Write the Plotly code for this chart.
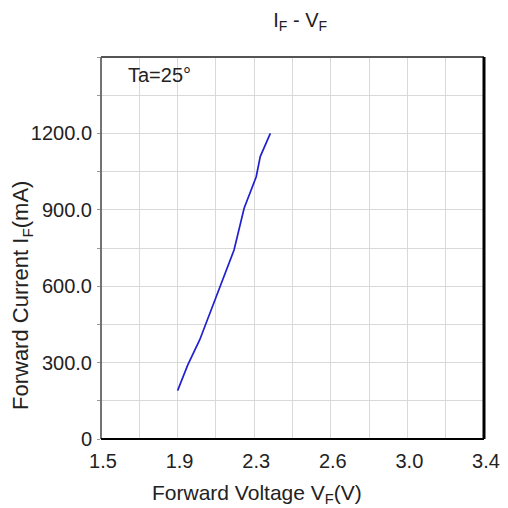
import plotly.graph_objects as go

# Data
voltage = [1.88, 1.93, 1.99, 2.04, 2.09, 2.16, 2.21, 2.24, 2.27, 2.29, 2.34]
current = [190, 290, 390, 495, 598, 742, 906, 965, 1030, 1109, 1200]

x_tickvals = [1.5, 1.88, 2.26, 2.64, 3.02, 3.4]
x_ticktext = ["1.5", "1.9", "2.3", "2.6", "3.0", "3.4"]
x_gridvals = [1.5 + 0.19 * k for k in range(11)]
y_tickvals = [0, 300, 600, 900, 1200]
y_ticktext = ["0", "300.0", "600.0", "900.0", "1200.0"]
y_gridvals = [150 * k for k in range(11)]

FONT = "Liberation Sans, Arial, sans-serif"
TXT = "#222"

fig = go.Figure()
fig.add_trace(go.Scatter(x=voltage, y=current, mode="lines",
                         line=dict(color="#2020d0", width=1.7),
                         showlegend=False, hoverinfo="x+y"))

# page body adds an 8px margin, so the figure is 500x500 with margins reduced by 8
fig.update_layout(
    width=500, height=500,
    margin=dict(l=93, r=24, t=49, b=69, autoexpand=False),
    paper_bgcolor="white", plot_bgcolor="white",
    font=dict(family=FONT, size=20, color=TXT),
    title=dict(text="I<sub>F</sub> - V<sub>F</sub>", x=0.52, xref="paper", xanchor="center",
               y=1 - 12 / 500, yref="container", yanchor="middle",
               font=dict(family=FONT, size=20, color=TXT)),
)

fig.update_xaxes(range=[1.5, 3.4], tickmode="array", tickvals=x_tickvals, ticktext=x_ticktext,
                 automargin=False,
                 showgrid=True, gridcolor="#d9d9d9", gridwidth=1, zeroline=False,
                 minor=dict(tickmode="array", tickvals=x_gridvals, showgrid=True,
                            gridcolor="#d9d9d9", gridwidth=1, ticks=""),
                 showline=False, ticks="", ticklabelshift=2, ticklabelstandoff=8,
                 tickfont=dict(family=FONT, size=20, color=TXT))
fig.update_yaxes(range=[0, 1500], tickmode="array", tickvals=y_tickvals, ticktext=y_ticktext,
                 automargin=False,
                 showgrid=True, gridcolor="#d9d9d9", gridwidth=1, zeroline=False,
                 minor=dict(tickmode="array", tickvals=y_gridvals, showgrid=True,
                            gridcolor="#d9d9d9", gridwidth=1, ticks="outside", ticklen=3,
                            tickcolor="#999"),
                 showline=False, ticks="outside", ticklen=3, tickcolor="#999",
                 ticklabelstandoff=1,
                 tickfont=dict(family=FONT, size=20, color=TXT))

# frame
fig.add_shape(type="line", xref="x domain", yref="y domain", x0=0, x1=0, y0=0, y1=1,
              line=dict(color="#444", width=1.5))
fig.add_shape(type="line", xref="x domain", yref="y domain", x0=0, x1=1, y0=1, y1=1,
              line=dict(color="#555", width=2))
fig.add_shape(type="line", xref="x domain", yref="y domain", x0=1, x1=1, y0=0, y1=1,
              line=dict(color="#000", width=3))
fig.add_shape(type="line", xref="x domain", yref="y domain", x0=0, x1=1, y0=0, y1=0,
              line=dict(color="#000", width=2))

# axis titles and condition label
fig.add_annotation(text="Forward Voltage V<sub>F</sub>(V)", xref="paper", yref="paper",
                   x=(257 - 101) / 383, y=(439 - 494) / 382, xanchor="center", yanchor="middle",
                   showarrow=False, font=dict(family=FONT, size=21, color=TXT))
fig.add_annotation(text="Forward Current I<sub>F</sub>(mA)", xref="paper", yref="paper",
                   x=(22 - 101) / 383, y=(439 - 296) / 382, xanchor="center", yanchor="middle",
                   textangle=-90, showarrow=False, font=dict(family=FONT, size=22, color=TXT))
fig.add_annotation(text="Ta=25°", xref="paper", yref="paper",
                   x=(126 - 101) / 383, y=(439 - 75) / 382, xanchor="left", yanchor="middle",
                   showarrow=False, font=dict(family=FONT, size=20, color=TXT))

fig.write_html("out.html")
